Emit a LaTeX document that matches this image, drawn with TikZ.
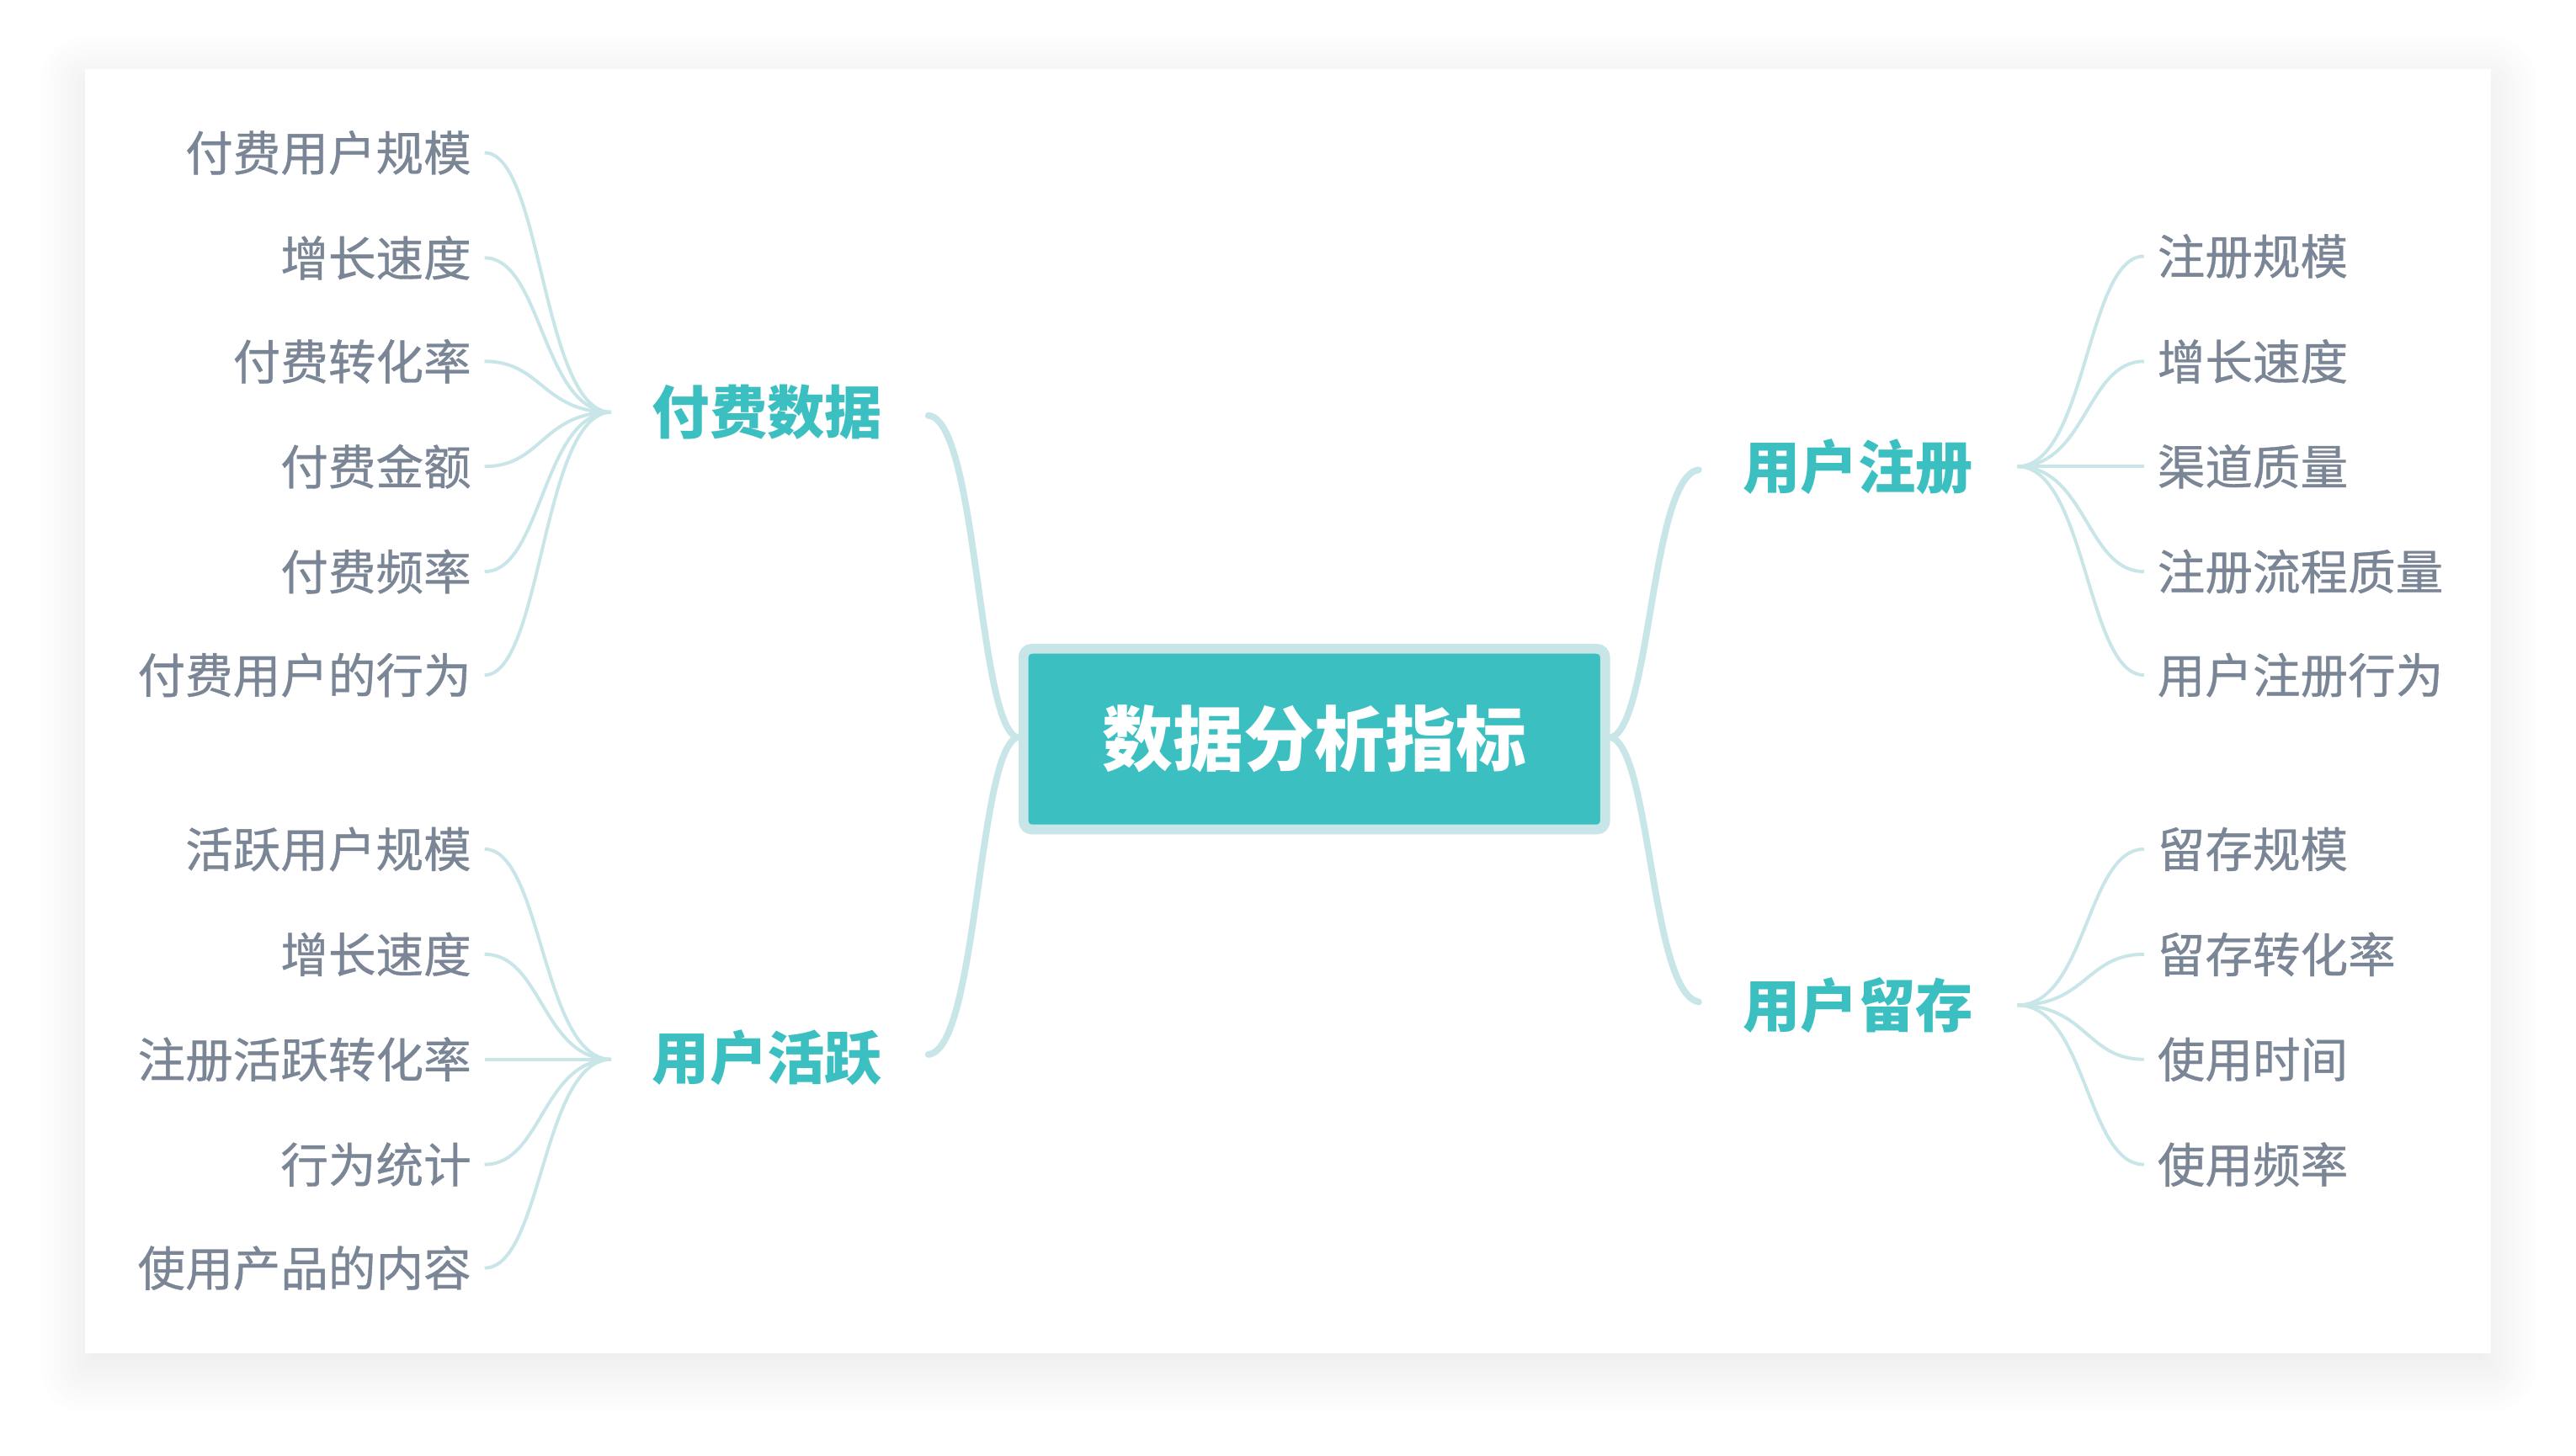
\documentclass[tikz,border=0pt]{standalone}
\usepackage{fontspec}
\setmainfont{Noto Sans CJK SC}
\newfontfamily\medfont[FakeBold=0.6]{Noto Sans CJK SC}
\usetikzlibrary{shadows.blur}
\definecolor{teal1}{HTML}{3BBFC1}
\definecolor{teallt}{HTML}{C8E5E8}
\definecolor{leafc}{HTML}{7A8596}
\tikzset{
 leafL/.style={anchor=east,text=leafc,font=\medfont\fontsize{29}{33}\selectfont,inner sep=0pt},
 leafR/.style={anchor=west,text=leafc,font=\medfont\fontsize{29}{33}\selectfont,inner sep=0pt},
 branch/.style={text=teal1,font=\fontsize{35}{40}\selectfont\bfseries,inner sep=0pt},
 lk/.style={draw=teallt,line width=2pt},
 mk/.style={draw=teallt,line width=4pt,line cap=round},
}
\begin{document}
\begin{tikzpicture}[x=1pt,y=-1pt]
\useasboundingbox (0,0) rectangle (1568,886);
\fill[white,blur shadow={shadow xshift=0pt,shadow yshift=-8pt,shadow blur radius=30pt,shadow blur steps=20,shadow opacity=10}] (52,42) rectangle (1516,824);
% center
\node[draw=teallt,line width=6pt,fill=teal1,rounded corners=5pt,minimum width=354pt,minimum height=110pt,text=white,font=\fontsize{43}{48}\selectfont\bfseries] (c) at (800,450) {数据分析指标};
% branches
\node[branch] (b1) at (467,251) {付费数据};
\node[branch] (b2) at (467,644) {用户活跃};
\node[branch] (b3) at (1131,284) {用户注册};
\node[branch] (b4) at (1131,612) {用户留存};
\coordinate (b1e) at (565,253); \coordinate (b2e) at (565,642);
\coordinate (b3w) at (1034,286); \coordinate (b4w) at (1034,610);
\coordinate (b1w) at (372,251); \coordinate (b2w) at (372,645);
\coordinate (b3e) at (1228,284); \coordinate (b4e) at (1228,612);
\coordinate (cl) at (619,449); \coordinate (cr) at (981,449);
\draw[mk] (cl) .. controls (595,440) and (595,255) .. (b1e);
\draw[mk] (cl) .. controls (595,458) and (595,640) .. (b2e);
\draw[mk] (cr) .. controls (1005,440) and (1005,290) .. (b3w);
\draw[mk] (cr) .. controls (1005,458) and (1005,605) .. (b4w);
% left top leaves
\foreach \t/\y [count=\i] in {付费用户规模/93,增长速度/157,付费转化率/220,付费金额/284,付费频率/348,付费用户的行为/411}{
 \node[leafL] (l\i) at (287,\y) {\t};
 \draw[lk] (b1w) .. controls (330,251) and (330,\y) .. ([xshift=8pt]l\i.east);
}
\foreach \t/\y [count=\i] in {活跃用户规模/517,增长速度/581,注册活跃转化率/645,行为统计/709,使用产品的内容/772}{
 \node[leafL] (m\i) at (287,\y) {\t};
 \draw[lk] (b2w) .. controls (330,645) and (330,\y) .. ([xshift=8pt]m\i.east);
}
\foreach \t/\y [count=\i] in {注册规模/156,增长速度/220,渠道质量/284,注册流程质量/348,用户注册行为/411}{
 \node[leafR] (r\i) at (1313,\y) {\t};
 \draw[lk] (b3e) .. controls (1270,284) and (1270,\y) .. ([xshift=-8pt]r\i.west);
}
\foreach \t/\y [count=\i] in {留存规模/517,留存转化率/581,使用时间/645,使用频率/709}{
 \node[leafR] (s\i) at (1313,\y) {\t};
 \draw[lk] (b4e) .. controls (1270,612) and (1270,\y) .. ([xshift=-8pt]s\i.west);
}
\end{tikzpicture}
\end{document}
